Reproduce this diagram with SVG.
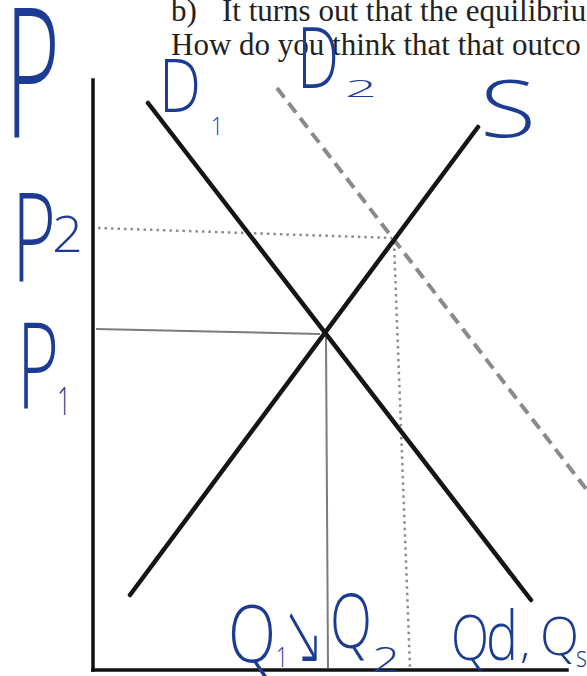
<svg xmlns="http://www.w3.org/2000/svg" width="587" height="676" viewBox="0 0 587 676">
  <style>
    .axis { stroke: #111; stroke-width: 3.5; fill: none; stroke-linecap: square; }
    .curve { stroke: #151515; stroke-width: 4.5; fill: none; stroke-linecap: round; }
    .shift { stroke: #8a8a8a; stroke-width: 4; fill: none; stroke-dasharray: 12 7; }
    .dots { stroke: #8c8c8c; stroke-width: 2.5; fill: none; stroke-dasharray: 2.5 4; }
    .guide { stroke: #7c7c7c; stroke-width: 2; fill: none; }
    .typed { font-family: "Liberation Serif", "Times New Roman", serif; font-size: 31px; fill: #222; }
    .hand { font-family: "Open Sans", "Liberation Sans", sans-serif; font-weight: 300; fill: #1c3c94; }
    .arrow { font-family: "DejaVu Sans", sans-serif; font-weight: 300; fill: #1c3c94; }
  </style>
  <rect width="587" height="676" fill="#fff"/>

  <g id="question-text">
    <text class="typed"><tspan x="171" y="21">b)</tspan><tspan x="222" y="21">It turns out that the equilibriu</tspan></text>
    <text class="typed" x="171" y="55">How do you think that that outco</text>
  </g>

  <g id="axes">
    <line class="axis" x1="93" y1="80" x2="93" y2="670"/>
    <line class="axis" x1="93" y1="670" x2="567" y2="670"/>
  </g>

  <g id="guides">
    <line class="dots" x1="98" y1="228" x2="392" y2="238"/>
    <line class="dots" x1="394" y1="242" x2="410" y2="668"/>
    <line class="guide" x1="96" y1="329" x2="320" y2="334"/>
    <line class="guide" x1="326" y1="337" x2="328" y2="668"/>
  </g>

  <g id="curves">
    <line id="D2" class="shift" x1="277" y1="88" x2="590" y2="494"/>
    <line id="D1" class="curve" x1="148" y1="103" x2="531" y2="600"/>
    <line id="S" class="curve" x1="130" y1="595" x2="478" y2="127"/>
  </g>

  <g id="labels">
    <text id="label-P" class="hand" x="5" y="137" font-size="180" textLength="55" lengthAdjust="spacingAndGlyphs">P</text>
    <text id="label-D1" class="hand"><tspan x="159" y="112" font-size="73" textLength="42" lengthAdjust="spacingAndGlyphs">D</tspan><tspan x="211" y="135" font-size="26" textLength="12" lengthAdjust="spacingAndGlyphs">1</tspan></text>
    <text id="label-D2" class="hand"><tspan x="297" y="88" font-size="84" textLength="42" lengthAdjust="spacingAndGlyphs">D</tspan><tspan x="345" y="97" font-size="24" textLength="32" lengthAdjust="spacingAndGlyphs">2</tspan></text>
    <text id="label-S" class="hand" x="480" y="137" font-size="80" textLength="56" lengthAdjust="spacingAndGlyphs">S</text>
    <text id="label-P2" class="hand"><tspan x="12" y="282" font-size="124" textLength="44" lengthAdjust="spacingAndGlyphs">P</tspan><tspan x="52" y="252" font-size="49" textLength="31" lengthAdjust="spacingAndGlyphs">2</tspan></text>
    <text id="label-P1" class="hand"><tspan x="17" y="408" font-size="119" textLength="42" lengthAdjust="spacingAndGlyphs">P</tspan><tspan x="57" y="415" font-size="39" textLength="14" lengthAdjust="spacingAndGlyphs">1</tspan></text>
    <text id="label-Q1Q2" class="hand"><tspan x="228" y="662" font-size="80" textLength="48" lengthAdjust="spacingAndGlyphs">Q</tspan><tspan x="276" y="667" font-size="28" textLength="12" lengthAdjust="spacingAndGlyphs">1</tspan><tspan class="arrow" x="282" y="664" font-size="88" textLength="42" lengthAdjust="spacingAndGlyphs">↘</tspan><tspan x="330" y="648" font-size="75" textLength="42" lengthAdjust="spacingAndGlyphs">Q</tspan><tspan x="372" y="672" font-size="34" textLength="28" lengthAdjust="spacingAndGlyphs">2</tspan></text>
    <text id="label-QdQs" class="hand"><tspan x="451" y="660" font-size="62" textLength="38" lengthAdjust="spacingAndGlyphs">Q</tspan><tspan x="486" y="660" font-size="68" textLength="32" lengthAdjust="spacingAndGlyphs">d</tspan><tspan x="520" y="658" font-size="40" textLength="10" lengthAdjust="spacingAndGlyphs">,</tspan><tspan x="540" y="655" font-size="54" textLength="39" lengthAdjust="spacingAndGlyphs">Q</tspan><tspan x="576" y="667" font-size="30" textLength="11" lengthAdjust="spacingAndGlyphs">s</tspan></text>
  </g>
</svg>
